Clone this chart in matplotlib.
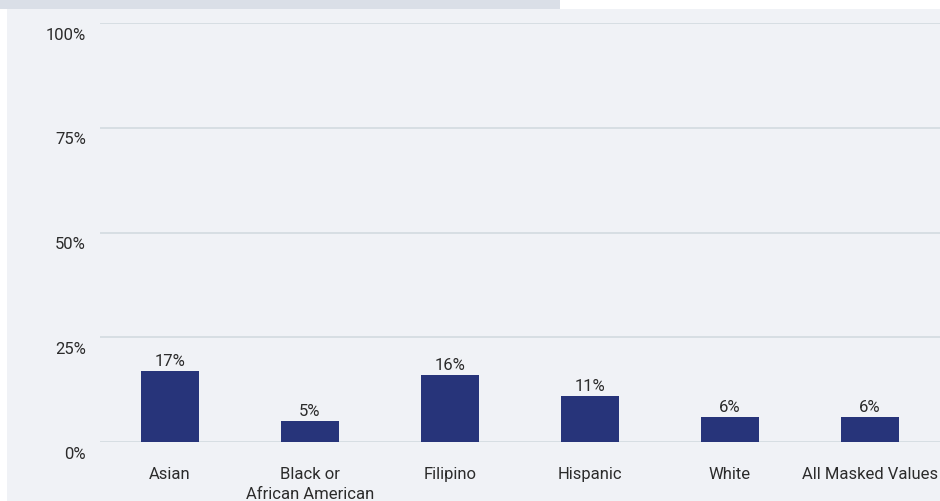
#! -*- coding: utf-8 -*-
import matplotlib
matplotlib.use('Agg')
import matplotlib.pyplot as plt
import matplotlib.transforms as mtransforms
from matplotlib.patches import Rectangle

# --- data ---
categories = ['Asian', 'Black or\nAfrican American', 'Filipino', 'Hispanic', 'White', 'All Masked Values']
values = [17, 5, 16, 11, 6, 6]
value_labels = ['17%', '5%', '16%', '11%', '6%', '6%']
yticks = [0, 25, 50, 75, 100]
ytick_labels = ['0%', '25%', '50%', '75%', '100%']

plt.rcParams['font.family'] = ['Roboto', 'DejaVu Sans']

TXT = '#2b2b2b'
FS = 12

W, H = 940, 502
fig = plt.figure(figsize=(W / 100, H / 100), dpi=100)
fig.patch.set_facecolor('white')

# panel background and top strip
fig.patches.append(Rectangle((7 / W, 0), 1.0, (H - 10) / H, transform=fig.transFigure,
                             facecolor='#f0f2f6', edgecolor='none', zorder=-5))
fig.patches.append(Rectangle((0, (H - 10) / H), 560 / W, 10 / H, transform=fig.transFigure,
                             facecolor='#dadfe7', edgecolor='none', zorder=-5))

ax = fig.add_axes([100 / W, 59 / H, 840 / W, 419 / H])
ax.set_facecolor('none')
ax.set_zorder(2)

x = list(range(len(categories)))
ax.bar(x, values, width=0.414, color='#27347a', zorder=3)
for xi, v, lab in zip(x, values, value_labels):
    ax.annotate(lab, (xi, v), xytext=(0, 2), textcoords='offset points',
                ha='center', va='bottom', fontsize=FS, color=TXT)

ax.set_xlim(-0.5, len(categories) - 0.5)
ax.set_ylim(0, 100)
for t in yticks:
    ax.axhline(t, color='#d3dbe0', lw=1.2, zorder=1)

ax.set_yticks(yticks)
ax.set_yticklabels(ytick_labels, fontsize=FS, color=TXT)
ax.set_xticks(x)
ax.set_xticklabels(categories, fontsize=FS, color=TXT, linespacing=1.45, va='top')
ax.tick_params(axis='y', length=0, pad=10)
ax.tick_params(axis='x', length=0, pad=17)
for s in ax.spines.values():
    s.set_visible(False)

# y tick labels sit a little below their gridline
offset = mtransforms.ScaledTranslation(0, -7 / 72, fig.dpi_scale_trans)
for lbl in ax.get_yticklabels():
    lbl.set_transform(lbl.get_transform() + offset)

fig.savefig('out.png', dpi=100)
